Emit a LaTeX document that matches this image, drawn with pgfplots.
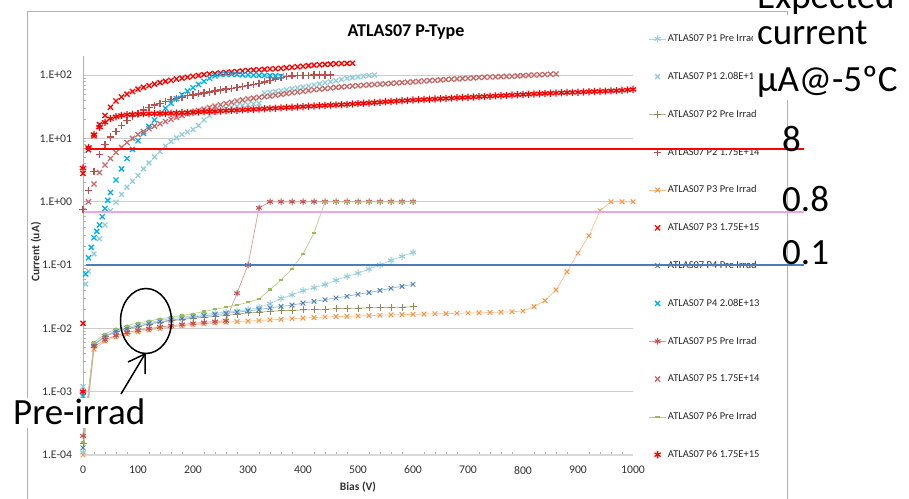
\documentclass[border=0pt]{standalone}
\usepackage{pgfplots}
\pgfplotsset{compat=1.18}
\usepackage{fontspec}
\setmainfont{Carlito}
\definecolor{lblue}{RGB}{147,205,221}
\definecolor{bblue}{RGB}{0,176,240}
\definecolor{dblue}{RGB}{79,129,189}
\definecolor{olive}{RGB}{148,138,84}
\definecolor{orng}{RGB}{247,150,70}
\definecolor{dred}{RGB}{192,80,77}
\definecolor{grn}{RGB}{155,187,89}
\definecolor{pinkl}{RGB}{234,166,234}
\definecolor{refblue}{RGB}{74,126,187}
\definecolor{refred}{RGB}{255,0,0}
\begin{document}
\begin{tikzpicture}[x=1pt,y=1pt]
\path[use as bounding box] (0,0) rectangle (909,498);
\draw[gray!60, line width=0.8pt] (27,-5) rectangle (787,487);
\node[anchor=base, font=\bfseries\fontsize{18}{20}\selectfont] at (406,461.3) {ATLAS07 P-Type};
\begin{axis}[
 at={(83pt,43pt)}, anchor=south west, scale only axis, width=550pt, height=399pt,
 xmin=0, xmax=1000, ymin=1e-4, ymax=200, ymode=log, clip=false,
 axis x line*=bottom, axis y line*=left,
 x axis line style={-, draw=gray!30, line width=1.2pt},
 y axis line style={-, draw=gray!60, line width=0.8pt},
 xtick={0,100,...,1000}, xticklabels={0,100,200,300,400,500,600,700,800,900,1000},
 minor x tick num=4,
 ytick={1e-4,1e-3,1e-2,1e-1,1,10,100},
 yticklabels={1.E-04,1.E-03,1.E-02,1.E-01,1.E+00,1.E+01,1.E+02},
 ymajorgrids, major grid style={gray!40, line width=0.8pt},
 tick align=inside, major tick length=0pt, minor tick length=3pt,
 every tick/.style={gray!60, line width=0.5pt},
 tick label style={font=\fontsize{11.7}{13}\selectfont, text=black!80},
 xticklabel style={yshift=-7.5pt},
 yticklabel style={xshift=-7.5pt},
 xlabel={\textbf{Bias (V)}}, ylabel={\textbf{Current (uA)}},
 label style={font=\fontsize{11.5}{13}\selectfont, text=black!80},
 xlabel style={at={(axis description cs:0.5,-0.0902)}, anchor=base},
 ylabel style={at={(axis description cs:-0.0855,0.509)}, anchor=center},
 legend style={at={(axis description cs:1.0282,1.0604)}, anchor=north west, draw=none, fill=none,
   font=\fontsize{10.5}{12}\selectfont, text=black!85, row sep=24.3pt, inner sep=0pt,
   nodes={inner sep=1.5pt, text height=8pt, text depth=2.5pt}},
 legend cell align=left,
]
% 1 P1 Pre Irrad
\addplot[color=lblue!80, line width=0.7pt, mark=asterisk, mark size=3.5pt, mark options={solid, draw=lblue, line width=1pt}] coordinates {
(0,1.1e-4) (20,0.0056) (40,0.0076) (60,0.0092) (80,0.0103) (100,0.0114) (120,0.0124) (140,0.0134) (160,0.0142) (180,0.015) (200,0.0158) (220,0.0166) (240,0.0173) (260,0.018) (280,0.0188) (300,0.0198) (320,0.0215) (340,0.0245) (360,0.0298) (380,0.0337) (400,0.0395) (420,0.0438) (440,0.049) (460,0.0575) (480,0.066) (500,0.0745) (520,0.0865) (540,0.1) (560,0.118) (580,0.137) (600,0.158)};
% 2 P1 2.08E+13
\addplot[only marks, mark=x, mark size=3.4pt, mark options={draw=lblue, line width=1.3pt}] coordinates {
(0,0.0012) (5,0.05) (10,0.08) (20,0.15) (30,0.26) (40,0.43) (50,0.72) (60,0.98) (70,1.3) (80,1.7) (90,2.1) (100,2.6) (110,3.3) (120,4.1) (130,5.1) (140,6.2) (150,7.5) (160,8.9) (170,10.2) (180,11.5) (190,12.6) (200,13.8) (210,16) (220,19.5) (230,23) (240,25.5) (250,27.5) (260,29.5) (270,31) (280,32) (290,33) (300,34) (310,35) (320,36) (330,52) (340,53.5) (350,55) (360,56.5) (370,58.5) (380,60.5) (390,62.5) (400,64.5) (410,67) (420,69.5) (430,72.5) (440,75.5) (450,78.5) (460,81.5) (470,85) (480,88.5) (490,91) (500,93.5) (510,96) (520,98.5) (530,100)};
% 3 P2 Pre Irrad
\addplot[color=olive!70, line width=0.7pt, mark=+, mark size=3.5pt, mark options={solid, draw=olive, line width=1pt}] coordinates {
(0,1.5e-4) (20,0.0055) (40,0.0075) (60,0.0088) (80,0.0098) (100,0.0108) (120,0.0117) (140,0.0125) (160,0.0132) (180,0.0138) (200,0.0145) (220,0.015) (240,0.0155) (260,0.016) (280,0.0168) (300,0.0175) (320,0.018) (340,0.0185) (360,0.019) (380,0.0192) (400,0.0195) (420,0.0198) (440,0.02) (460,0.0205) (480,0.0207) (500,0.0209) (520,0.021) (540,0.0212) (560,0.0214) (580,0.0216) (600,0.022)};
% 4 P2 1.75E+14
\addplot[only marks, mark=+, mark size=3.6pt, mark options={draw=dred, line width=1.3pt}] coordinates {
(0,0.75) (10,1.5) (20,3.0) (30,5.5) (40,8) (50,10.5) (60,13) (70,16) (80,19) (90,22) (100,25) (110,28) (120,31) (130,33.5) (140,36) (150,38.5) (160,41) (170,43) (180,45) (190,47) (200,48.5) (210,50.5) (220,52) (230,54) (240,56) (250,58) (260,60) (270,62) (280,64) (290,66.5) (300,69) (310,71.5) (320,74) (330,78) (340,82) (350,87) (360,92) (370,95) (380,97) (390,98.5) (400,99) (410,99.5) (420,100) (430,100) (440,100) (450,100)};
% 5 P3 Pre Irrad
\addplot[color=orng!60, line width=0.7pt, mark=x, mark size=3.3pt, mark options={solid, draw=orng, line width=1pt}] coordinates {
(0,1e-4) (20,0.0047) (40,0.0063) (60,0.0073) (80,0.0081) (100,0.0088) (120,0.0094) (140,0.01) (160,0.0105) (180,0.011) (200,0.0114) (220,0.0118) (240,0.0122) (260,0.0125) (280,0.0128) (300,0.013) (320,0.0133) (340,0.0136) (360,0.0139) (380,0.0142) (400,0.0145) (420,0.0148) (440,0.0151) (460,0.0153) (480,0.0155) (500,0.0157) (520,0.0159) (540,0.0161) (560,0.0163) (580,0.0165) (600,0.0166) (620,0.0168) (640,0.017) (660,0.0171) (680,0.0173) (700,0.0175) (720,0.0176) (740,0.0178) (760,0.018) (780,0.0183) (800,0.0188) (820,0.022) (840,0.0274) (860,0.0405) (880,0.078) (900,0.155) (920,0.29) (940,0.72) (960,1.0) (980,1.0) (1000,1.0)};
% 6 P3 1.75E+15
\addplot[only marks, mark=x, mark size=3.6pt, mark options={draw=refred, line width=1.3pt}] coordinates {
(0,0.012) (0,2.8) (10,6.6) (20,11) (30,16.5) (40,23) (50,31) (60,39) (70,45) (80,50) (90,55) (100,60) (110,64) (120,68) (130,72) (140,76) (150,79.5) (160,83) (170,86.5) (180,89.5) (190,92.5) (200,95.5) (210,98.5) (220,101.5) (230,104) (240,106) (250,108) (260,110) (270,112) (280,114) (290,116) (300,118) (310,119.5) (320,121) (330,123) (340,124.5) (350,126) (360,128) (370,130.5) (380,133) (390,135.5) (400,138) (410,141) (420,143.5) (430,145.5) (440,147.5) (450,149) (460,150.5) (470,152) (480,153) (490,154)};
% 7 P4 Pre Irrad
\addplot[color=dblue!60, line width=0.7pt, mark=x, mark size=3.3pt, mark options={solid, draw=dblue, line width=1pt}] coordinates {
(0,1.3e-4) (20,0.0055) (40,0.0074) (60,0.0089) (80,0.0099) (100,0.0109) (120,0.0118) (140,0.0127) (160,0.0135) (180,0.0143) (200,0.0151) (220,0.0158) (240,0.0165) (260,0.0172) (280,0.018) (300,0.0188) (320,0.0198) (340,0.021) (360,0.0222) (380,0.0233) (400,0.025) (420,0.0266) (440,0.0283) (460,0.0302) (480,0.0321) (500,0.0346) (520,0.0367) (540,0.0397) (560,0.043) (580,0.0461) (600,0.0497)};
% 8 P4 2.08E+13
\addplot[only marks, mark=x, mark size=3.6pt, mark options={draw=bblue, line width=1.3pt}] coordinates {
(0,0.00085) (5,0.072) (10,0.13) (15,0.19) (20,0.27) (25,0.34) (30,0.43) (35,0.58) (40,0.78) (45,1.05) (50,1.4) (60,2.2) (70,3.3) (80,4.8) (90,6.7) (100,9.2) (110,12) (120,15.5) (130,19.5) (140,24.5) (150,30) (160,36) (170,42.5) (180,49) (190,56) (200,63) (210,71) (220,80) (230,89) (240,97) (250,102) (260,103) (270,103) (280,102) (290,101) (300,100) (310,99.5) (320,99) (330,98.5) (340,98) (350,97) (360,96)};
% 9 P5 Pre Irrad
\addplot[color=dred!60, line width=0.7pt, mark=asterisk, mark size=3.3pt, mark options={solid, draw=dred, line width=1pt}] coordinates {
(0,2e-4) (20,0.0052) (40,0.0066) (60,0.0077) (80,0.0086) (100,0.0093) (120,0.0099) (140,0.0105) (160,0.011) (180,0.0115) (200,0.012) (220,0.0124) (240,0.0128) (260,0.0132) (280,0.036) (300,0.1) (320,0.8) (340,1) (360,1) (380,1) (400,1) (420,1) (440,1) (460,1) (480,1) (500,1) (520,1) (540,1) (560,1) (580,1) (600,1)};
% 10 P5 1.75E+14
\addplot[only marks, mark=x, mark size=3.6pt, mark options={draw=dred!85!white, line width=1.3pt}] coordinates {
(10,1.0) (20,1.9) (30,2.9) (40,3.8) (50,4.8) (60,6.0) (70,7.2) (80,8.6) (90,10) (100,11.5) (110,12.8) (120,14.2) (130,15.6) (140,17) (150,18.5) (160,20) (170,21.5) (180,23) (190,24.5) (200,26) (210,27.5) (220,29) (230,30.7) (240,32.3) (250,34) (260,35.5) (270,37.2) (280,39) (290,40.5) (300,42) (310,43.2) (320,44.5) (330,45.5) (340,46.5) (350,48) (360,49.5) (370,51) (380,52.5) (390,54) (400,55.5) (410,57) (420,58.5) (430,59.8) (440,61) (450,62.5) (460,64) (470,65) (480,66) (490,67) (500,68) (510,69) (520,70) (530,71) (540,72) (550,73) (560,74) (570,75) (580,76) (590,77) (600,78) (610,79.2) (620,80.5) (630,81.8) (640,83) (650,84) (660,85) (670,86) (680,87) (690,88) (700,89) (710,90.2) (720,91.5) (730,92.2) (740,93) (750,93.8) (760,94.5) (770,95.2) (780,96) (790,97) (800,98) (810,99) (820,100) (830,101) (840,102) (850,103) (860,104)};
% 11 P6 Pre Irrad
\addplot[color=grn!70, line width=0.7pt, mark=-, mark size=2.2pt, mark options={solid, draw=grn, line width=2.2pt}] coordinates {
(0,1.6e-4) (20,0.006) (40,0.0082) (60,0.0097) (80,0.011) (100,0.0122) (120,0.013) (140,0.0142) (160,0.015) (180,0.016) (200,0.017) (220,0.0185) (240,0.02) (260,0.0215) (280,0.0233) (300,0.0257) (320,0.029) (340,0.041) (360,0.058) (380,0.087) (400,0.15) (420,0.32) (440,1) (460,1) (480,1) (500,1) (520,1) (540,1) (560,1) (580,1) (600,1)};
% 12 P6 1.75E+15
\addplot[only marks, mark=asterisk, mark size=3.6pt, mark options={draw=refred, line width=1.3pt}] coordinates {
(0,0.001) (0,3.4) (10,7.2) (20,11.5) (30,15) (40,18) (50,20.5) (60,22) (70,23) (80,23.6) (90,24) (100,24.2) (110,24.4) (120,24.5) (130,24.6) (140,24.7) (150,24.8) (160,25) (170,25.2) (180,25.4) (190,25.6) (200,25.8) (210,26) (220,26.3) (230,26.5) (240,26.8) (250,27.1) (260,27.3) (270,27.6) (280,27.9) (290,28.2) (300,28.5) (310,28.8) (320,29.1) (330,29.4) (340,29.7) (350,30) (360,30.3) (370,30.7) (380,31) (390,31.4) (400,31.7) (410,32.1) (420,32.4) (430,32.8) (440,33.1) (450,33.5) (460,33.8) (470,34.1) (480,34.4) (490,34.9) (500,35.4) (510,35.8) (520,36.3) (530,36.8) (540,37.3) (550,37.8) (560,38.3) (570,38.8) (580,39.3) (590,39.8) (600,40.3) (610,40.7) (620,41.1) (630,41.5) (640,41.9) (650,42.4) (660,42.8) (670,43.2) (680,43.7) (690,44.1) (700,44.6) (710,45) (720,45.4) (730,45.9) (740,46.4) (750,46.9) (760,47.3) (770,47.8) (780,48.3) (790,48.8) (800,49.3) (810,49.8) (820,50.3) (830,50.8) (840,51.3) (850,51.7) (860,52.1) (870,52.5) (880,52.9) (890,53.3) (900,53.7) (910,54.1) (920,54.6) (930,55) (940,55.4) (950,55.8) (960,56.3) (970,56.8) (980,57.5) (990,58.4) (1000,59.5)};
\legend{ATLAS07 P1 Pre Irrad, ATLAS07 P1 2.08E+13, ATLAS07 P2 Pre Irrad, ATLAS07 P2 1.75E+14, ATLAS07 P3 Pre Irrad, ATLAS07 P3 1.75E+15, ATLAS07 P4 Pre Irrad, ATLAS07 P4 2.08E+13, ATLAS07 P5 Pre Irrad, ATLAS07 P5 1.75E+14, ATLAS07 P6 Pre Irrad, ATLAS07 P6 1.75E+15}
\end{axis}
\begin{axis}[at={(83pt,43pt)}, anchor=south west, scale only axis, width=550pt, height=399pt,
 xmin=0, xmax=1000, ymin=1e-4, ymax=200, ymode=log, axis lines=none, ticks=none, clip=false]
\addplot[draw=refblue, line width=2pt, mark=none] coordinates {(6,0.1) (1311,0.1)};
\addplot[draw=pinkl, line width=2pt, mark=none] coordinates {(4,0.687) (1311,0.687)};
\addplot[draw=refred, line width=2pt, mark=none] coordinates {(6,6.7) (1311,6.7)};
\end{axis}
\fill[white] (753,398) rectangle (909,483);
\begin{scope}[every node/.style={anchor=base west, inner sep=0pt, font=\fontsize{37}{40}\selectfont}]
\node at (757,489) {Expected};
\node at (757,453) {current};
\node at (757,406) {µA@-5ºC};
\node at (782,346) {8};
\node at (782,286) {0.8};
\node at (782,233) {0.1};
\end{scope}
\fill[white] (10,70) rectangle (148,100);
\node[anchor=base west, inner sep=0pt, font=\fontsize{37}{40}\selectfont] at (13,74) {Pre-irrad};
\draw[line width=1.5pt] (146,177) ellipse [x radius=25.5, y radius=32.5];
\draw[line width=1.5pt] (121,104) -- (145,144);
\draw[line width=1.5pt] (128,136) -- (145,144) -- (145,124);
\end{tikzpicture}
\end{document}
